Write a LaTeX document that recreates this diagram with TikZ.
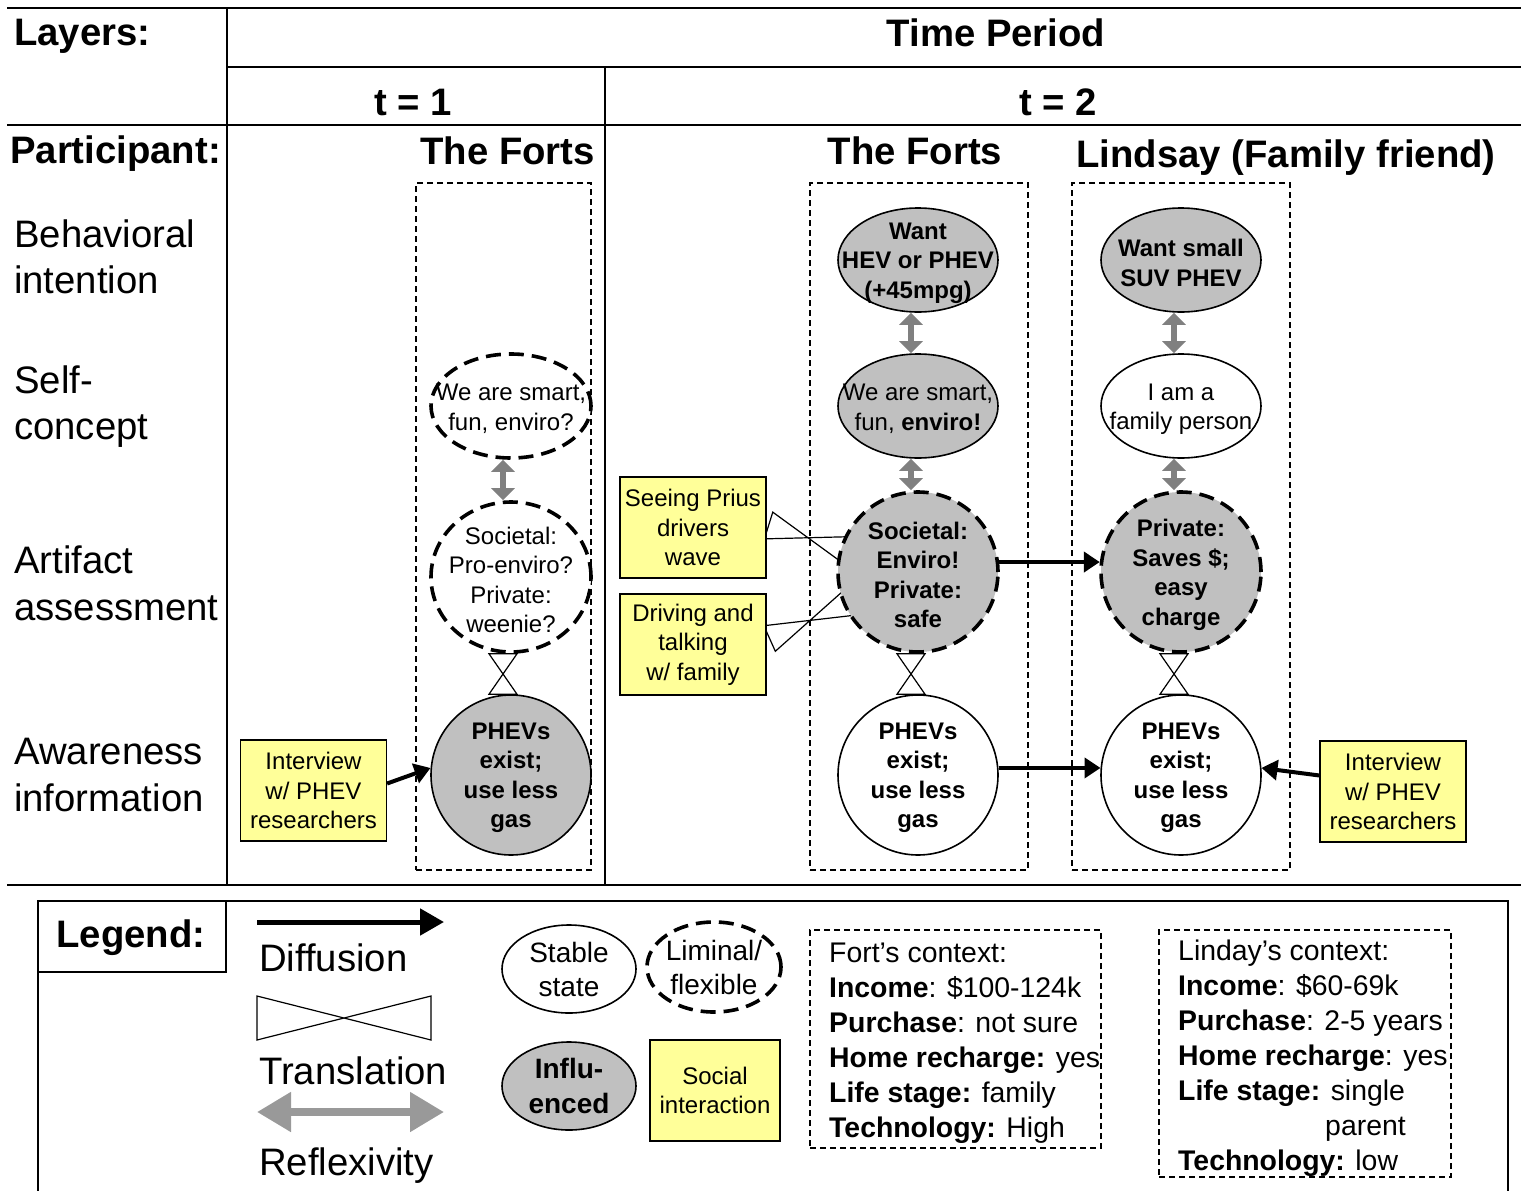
\documentclass[tikz,border=0pt]{standalone}
\usepackage{fontspec}
\setmainfont{Liberation Sans}
\usetikzlibrary{shapes.geometric,arrows.meta,calc}
\pgfdeclarelayer{bg}
\pgfsetlayers{bg,main}
\definecolor{inflgrey}{RGB}{192,192,192}
\definecolor{socyel}{RGB}{255,255,153}
\definecolor{reflgrey}{RGB}{128,128,128}
\definecolor{legrefl}{RGB}{153,153,153}
\newcommand{\vtie}[3]{%
  \draw[tie] ($(#1.south)+(#3-14,0)$) -- ($(#2.north)+(#3+14,0)$) -- ($(#2.north)+(#3-14,0)$) -- ($(#1.south)+(#3+14,0)$) -- cycle;}
\newcommand{\stie}[3]{%
  \coordinate (tS) at ($(#1.east)+#3$);
  \coordinate (tE) at ($(#2.center)!74pt!(tS)$);
  \draw[tie] ($(tS)!14pt!90:(tE)$) -- ($(tE)!14pt!90:(tS)$) -- ($(tE)!14pt!-90:(tS)$) -- ($(tS)!14pt!-90:(tE)$) -- cycle;}
\begin{document}
\begin{tikzpicture}[x=1pt,y=-1pt,
  tline/.style={line width=1.8pt},
  hdr/.style={font=\fontsize{38.3}{46}\selectfont\bfseries, inner sep=0pt},
  lay/.style={font=\fontsize{38.3}{47}\selectfont, inner sep=0pt, anchor=base west},
  nt/.style={font=\fontsize{24}{29.5}\selectfont, align=center, inner sep=0pt, yshift=-3pt},
  ntb/.style={font=\fontsize{24}{29.5}\selectfont\bfseries, align=center, inner sep=0pt, yshift=-3pt},
  lt/.style={font=\fontsize{28}{34}\selectfont, align=center, inner sep=0pt},
  ltb/.style={font=\fontsize{28}{35}\selectfont\bfseries, align=center, inner sep=0pt},
  stable/.style={ellipse, draw, line width=1.6pt, fill=white, inner sep=0pt},
  infl/.style={fill=inflgrey},
  liminal/.style={dash pattern=on 15pt off 8pt, line width=3.6pt},
  circ/.style={minimum width=160pt, minimum height=160pt},
  ell/.style={minimum width=160pt, minimum height=104pt},
  ybox/.style={draw, fill=socyel, line width=1.2pt, minimum width=146pt, minimum height=101pt, inner sep=0pt, align=center, font=\fontsize{24}{29.5}\selectfont},
  partbox/.style={draw, dash pattern=on 6pt off 4pt, line width=1.3pt, inner sep=0pt},
  refl/.style={draw=reflgrey, line width=6pt, {Triangle[width=23pt,length=12pt]}-{Triangle[width=23pt,length=12pt]}},
  diff/.style={line width=4pt, -{Triangle[width=20pt,length=16pt]}},
  tie/.style={line width=1.2pt, line join=miter},
  ctx/.style={font=\fontsize{28.4}{35}\selectfont, align=left, inner sep=0pt, anchor=north west},
]
\useasboundingbox (0,0) rectangle (1521,1191);
\clip (0,0) rectangle (1521,1191);

% table lines
\draw[tline] (7,8) -- (1521,8);
\draw[tline] (227,67) -- (1521,67);
\draw[tline] (7,125) -- (1521,125);
\draw[tline] (7,885) -- (1521,885);
\draw[tline] (227,8) -- (227,885);
\draw[tline] (605,67) -- (605,885);

% headers
\node[hdr, anchor=base west] (layers) at (14,45) {Layers:};
\node[hdr, anchor=base] (tp) at (996,46) {Time Period};
\node[hdr, anchor=base] (t1) at (413,115) {t = 1};
\node[hdr, anchor=base] (t2) at (1058,115) {t = 2};
\node[hdr, anchor=base west] (part) at (10,163) {Participant:};
\node[hdr, anchor=base east] (forts1) at (595,164) {The Forts};
\node[hdr, anchor=base] (forts2) at (915,164) {The Forts};
\node[hdr, anchor=base] (lind) at (1286,167) {Lindsay (Family friend)};

% layer labels
\node[lay] (l1a) at (14,247) {Behavioral};
\node[lay] (l1b) at (14,293) {intention};
\node[lay] (l2a) at (14,393) {Self-};
\node[lay] (l2b) at (14,439) {concept};
\node[lay] (l3a) at (14,573) {Artifact};
\node[lay] (l3b) at (14,620) {assessment};
\node[lay] (l4a) at (14,764) {Awareness};
\node[lay] (l4b) at (14,811) {information};

% participant boxes
\node[partbox, minimum width=175pt, minimum height=687pt] (p1) at (503.5,526.5) {};
\node[partbox, minimum width=218pt, minimum height=687pt] (p2) at (919,526.5) {};
\node[partbox, minimum width=218pt, minimum height=687pt] (p3) at (1181,526.5) {};

% t = 1, The Forts
\node[stable, liminal, ell] (s1) at (511,406) {};
\node[nt] (s1t) at (s1) {We are smart,\\fun, enviro?};
\node[stable, liminal, minimum width=160pt, minimum height=150pt] (f1) at (511,577) {};
\node[nt] (f1t) at (f1) {Societal:\\Pro-enviro?\\Private:\\weenie?};
\node[stable, infl, circ] (a1) at (511,775) {};
\node[ntb] (a1t) at (a1) {PHEVs\\exist;\\use less\\gas};
\node[ybox] (i1) at (313.5,790.5) {Interview\\w/ PHEV\\researchers};

% t = 2, The Forts
\node[stable, infl, ell] (b2) at (918,260) {};
\node[ntb] (b2t) at (b2) {Want\\HEV or PHEV\\(+45mpg)};
\node[stable, infl, ell] (s2) at (918,406) {};
\node[nt] (s2t) at (s2) {We are smart,\\fun, \textbf{enviro!}};
\node[stable, infl, liminal, circ] (f2) at (918,572) {};
\node[ntb] (f2t) at (f2) {Societal:\\Enviro!\\Private:\\safe};
\node[stable, circ] (a2) at (918,775) {};
\node[ntb] (a2t) at (a2) {PHEVs\\exist;\\use less\\gas};
\node[ybox] (sp) at (693,527.5) {Seeing Prius\\drivers\\wave};
\node[ybox] (dt) at (693,644.5) {Driving and\\talking\\w/ family};

% t = 2, Lindsay
\node[stable, infl, ell] (b3) at (1181,260) {};
\node[ntb] (b3t) at (b3) {Want small\\SUV PHEV};
\node[stable, ell] (s3) at (1181,406) {};
\node[nt] (s3t) at (s3) {I am a\\family person};
\node[stable, infl, liminal, circ] (f3) at (1181,572) {};
\node[ntb] (f3t) at (f3) {Private:\\Saves \$;\\easy\\charge};
\node[stable, circ] (a3) at (1181,775) {};
\node[ntb] (a3t) at (a3) {PHEVs\\exist;\\use less\\gas};
\node[ybox] (i3) at (1393,791.5) {Interview\\w/ PHEV\\researchers};

% reflexivity
\draw[refl] ($(s1.south)+(-8,0)$) -- ($(f1.north)+(-8,0)$);
\draw[refl] ($(b2.south)+(-7,0)$) -- ($(s2.north)+(-7,0)$);
\draw[refl] ($(s2.south)+(-7,0)$) -- ($(f2.north)+(-7,0)$);
\draw[refl] ($(b3.south)+(-7,0)$) -- ($(s3.north)+(-7,0)$);
\draw[refl] ($(s3.south)+(-7,0)$) -- ($(f3.north)+(-7,0)$);

% translation
\vtie{f1}{a1}{-8}
\vtie{f2}{a2}{-7}
\vtie{f3}{a3}{-7}
\begin{pgfonlayer}{bg}
\stie{sp}{f2}{(2,-2)}
\stie{dt}{f2}{(3,-6)}
\end{pgfonlayer}

% diffusion
\draw[diff] (a2.5) -- (a3.175);
\draw[diff] (f2.7) -- (f3.173);
\draw[diff] ([yshift=7pt]i1.east) -- (a1.175);
\draw[diff] ([yshift=16pt]i3.west) -- (a3.5);

% legend
\draw[line width=1.5pt] (38,901) rectangle (1508,1260);
\draw[line width=1.5pt] (38,901) rectangle (226,972);
\node[hdr, anchor=base] (leg) at (131,947) {Legend:};
\coordinate (ld1) at (257,922);
\coordinate (ld2) at (444,922);
\draw[line width=5pt, -{Triangle[width=26pt,length=24pt]}] (ld1) -- (ld2);
\node[lay] (ldt) at (259,971) {Diffusion};
\coordinate (lt1) at (257,996);
\coordinate (lt2) at (431,1040);
\coordinate (lt3) at (431,996);
\coordinate (lt4) at (257,1040);
\draw[tie] (lt1) -- (lt2) -- (lt3) -- (lt4) -- cycle;
\node[lay] (ltt) at (259,1084) {Translation};
\coordinate (lr1) at (257,1112);
\coordinate (lr2) at (444,1112);
\draw[draw=legrefl, line width=8pt, {Triangle[width=38pt,length=34pt]}-{Triangle[width=38pt,length=34pt]}] (lr1) -- (lr2);
\node[lay] (lrt) at (259,1175) {Reflexivity};

\node[stable, minimum width=134pt, minimum height=88pt] (ls) at (569,969) {};
\node[lt] (lst) at (ls) {Stable\\state};
\node[stable, liminal, minimum width=134pt, minimum height=90pt] (ll) at (714,967) {};
\node[lt] (llt) at (ll) {Liminal/\\flexible};
\node[stable, infl, minimum width=134pt, minimum height=88pt] (li) at (569,1086) {};
\node[ltb] (lit) at (li) {Influ-\\enced};
\node[ybox, minimum width=130pt] (lsoc) at (715,1090.5) {Social\\interaction};

% context boxes
\node[partbox, minimum width=291pt, minimum height=218pt] (fc) at (955.5,1039) {};
\node[ctx] (fct) at (829,942.5) {Fort’s context:\\
\textbf{Income}: \$100-124k\\
\textbf{Purchase}: not sure\\
\textbf{Home recharge:} yes\\
\textbf{Life stage:} family\\
\textbf{Technology:} High};
\node[partbox, minimum width=292pt, minimum height=247pt] (lc) at (1305,1053.5) {};
\node[ctx] (lct) at (1178,939.5) {Linday’s context:\\
\textbf{Income}: \$60-69k\\
\textbf{Purchase}: 2-5 years\\
\textbf{Home recharge}: yes\\
\textbf{Life stage:} single\\
\hspace*{147pt}parent\\
\textbf{Technology:} low};
\end{tikzpicture}
\end{document}
